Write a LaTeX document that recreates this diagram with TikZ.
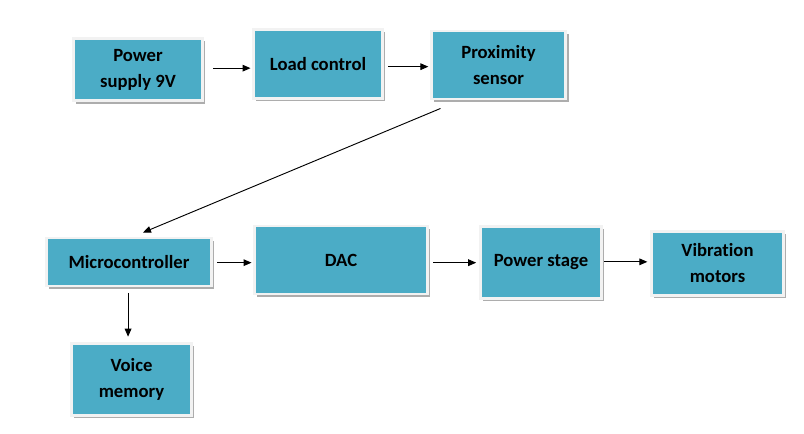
\documentclass[tikz,border=0pt]{standalone}
\usepackage{fontspec}
\setmainfont[Ligatures=NoCommon]{Carlito}
\usepackage{tikz}
\usetikzlibrary{arrows.meta}
\usetikzlibrary{shadows}
\definecolor{blockteal}{HTML}{4BACC6}
\definecolor{blockrim}{HTML}{F2F2F2}
\tikzset{blocknode/.style={rectangle, fill=blockteal, draw=blockrim, line width=2.2pt,
  drop shadow={shadow xshift=2pt, shadow yshift=-2pt, fill=black!32, opacity=1},
  align=center, inner sep=0pt, font=\fontsize{14}{19.5}\selectfont\bfseries},
flowarrow/.style={-{Triangle[length=6pt,width=5pt]}, line width=0.7pt}}

\begin{document}
\begin{tikzpicture}[x=0.75pt,y=-0.75pt]
\useasboundingbox (0,0) rectangle (804,433);

%%Top row
\node[blocknode, minimum width=97pt, minimum height=47pt] (psu) at (138,69.5) {Power\\supply 9V};
\node[blocknode, minimum width=97pt, minimum height=52pt] (load) at (318,64) {Load control};
\node[blocknode, minimum width=101pt, minimum height=51pt] (prox) at (498.5,65) {Proximity\\sensor};

%%Bottom row
\node[blocknode, minimum width=124pt, minimum height=36pt] (mcu) at (129,262) {Microcontroller};
\node[blocknode, minimum width=130pt, minimum height=51pt] (dac) at (341,260) {DAC};
\node[blocknode, minimum width=91pt, minimum height=54pt] (pstage) at (541,262.5) {Power stage};
\node[blocknode, minimum width=99pt, minimum height=48pt] (vib) at (717.5,263.5) {Vibration\\motors};
\node[blocknode, minimum width=90pt, minimum height=54pt] (voice) at (131.5,379.5) {Voice\\memory};

%%Connections
\draw[flowarrow, shorten <=7pt, shorten >=1pt] ([yshift=1pt]psu.east) -- ([yshift=1pt]psu.east -| load.west);
\draw[flowarrow, shorten <=3pt, shorten >=1pt] ([yshift=-2pt]load.east) -- ([yshift=-2pt]load.east -| prox.west);
\draw[flowarrow] ([shift={(-58,8)}]prox.south) -- ([shift={(14,-4)}]mcu.north);
\draw[flowarrow, shorten <=3pt, shorten >=1pt] ([yshift=-0.5pt]mcu.east) -- ([yshift=-0.5pt]mcu.east -| dac.west);
\draw[flowarrow, shorten <=3pt, shorten >=2pt] ([yshift=-2pt]dac.east) -- ([yshift=-2pt]dac.east -| pstage.west);
\draw[flowarrow, shorten <=1pt, shorten >=2pt] ([yshift=0.5pt]pstage.east) -- ([yshift=0.5pt]pstage.east -| vib.west);
\draw[flowarrow, shorten <=4pt, shorten >=4pt] ([xshift=-0.7pt]mcu.south) -- ([xshift=-0.7pt]mcu.south |- voice.north);

\end{tikzpicture}
\end{document}
